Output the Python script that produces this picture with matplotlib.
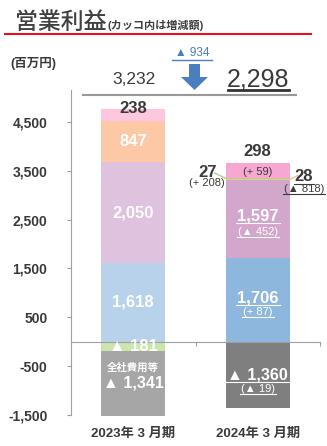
import matplotlib
matplotlib.use('Agg')
import matplotlib.pyplot as plt
from matplotlib.lines import Line2D
from matplotlib.patches import Polygon

plt.rcParams['font.family'] = ['Liberation Sans', 'Noto Sans CJK JP']

# 営業利益（百万円）
years = ['2023年 3 月期', '2024年 3 月期']
blue = [1618, 1706]
purple = [2050, 1597]
peach = [847, 28]
green = [-181, 27]
pink = [238, 298]
corp = [-1341, -1360]
totals = [3232, 2298]
total_change = -934

# 前年比の増減額（2024年３月期）
blue_chg = 87
purple_chg = -452
peach_chg = -818
green_chg = 208
pink_chg = 59
corp_chg = -19

yticks = [-1500, -500, 500, 1500, 2500, 3500, 4500]

series = [
    (blue, ['#b7d2ea', '#8eb7de']),
    (purple, ['#dfc3de', '#d3a6cb']),
    (peach, ['#fcc8a6', '#fbbd93']),
    (green, ['#cbe5ad', '#a8d88a']),
    (pink, ['#fcc7df', '#f6a8d2']),
    (corp, ['#a6a6a6', '#7f7f7f']),
]

W, H = 327, 446
fig = plt.figure(figsize=(W / 100, H / 100), dpi=100)
ax = fig.add_axes([71 / W, 1 - 415 / H, 249 / W, 325 / H])
ax.set_xlim(-0.5, 1.5)
ax.set_ylim(-1500, 5150)

DARK = '#3a3a3a'
AXC = '#a0a0a0'


def fx(px):
    return px / W


def fy(py):
    return 1 - py / H


# 積み上げ棒（正は上に、負は下に積む）
xs = [0, 1]
pos_base = [0, 0]
neg_base = [0, 0]
spans = []
for vals, cols in series:
    span = []
    for i, v in enumerate(vals):
        if v >= 0:
            b = pos_base[i]
            pos_base[i] += v
        else:
            b = neg_base[i]
            neg_base[i] += v
        ax.bar(xs[i], v, bottom=b, width=0.515, color=cols[i], clip_on=False,
               linewidth=0, zorder=2)
        span.append((b, b + v))
    spans.append(span)

(blue_s, purple_s, peach_s, green_s, pink_s, corp_s) = spans


def mid(s):
    return (s[0] + s[1]) / 2


def fmt(v):
    return f'{v:,}' if v >= 0 else f'▲ {-v:,}'


def fmt_chg(v):
    return f'(+ {v:,})' if v >= 0 else f'(▲ {-v:,})'


underlined = []


def label(x, y, s, size, color='white', ul=False, weight='bold', **kw):
    t = ax.text(x, y, s, fontsize=size, color=color, ha='center', va='center',
                fontweight=weight, zorder=5, clip_on=False, **kw)
    if ul:
        underlined.append((t, color))
    return t


# 2023年３月期
label(0, pink_s[0][1] + 10, f'{pink[0]:,}', 12, DARK)
label(0, mid(peach_s[0]), f'{peach[0]:,}', 12)
label(0, mid(purple_s[0]), f'{purple[0]:,}', 12)
label(0, mid(blue_s[0]), f'{blue[0]:,}', 12)
label(0, mid(green_s[0]), fmt(green[0]), 12)
label(0, mid(corp_s[0]) + 310, '全社費用等', 7.5)
label(0, mid(corp_s[0]), fmt(corp[0]), 11.5)

# 2024年３月期
label(1, pink_s[1][1] + 230, f'{pink[1]:,}', 12, DARK)
label(1, mid(pink_s[1]) - 40, fmt_chg(pink_chg), 8, DARK, weight='normal')
label(1, mid(purple_s[1]) + 70, f'{purple[1]:,}', 12, ul=True)
label(1, mid(purple_s[1]) - 250, fmt_chg(purple_chg), 8, ul=True, weight='normal')
label(1, mid(blue_s[1]) + 50, f'{blue[1]:,}', 12, ul=True)
label(1, mid(blue_s[1]) - 240, fmt_chg(blue_chg), 8, ul=True, weight='normal')
label(1, mid(corp_s[1]), fmt(corp[1]), 11.5, ul=True)
label(1, mid(corp_s[1]) - 290, fmt_chg(corp_chg), 8, ul=True, weight='normal')

# 細いセグメントは引き出し線で外側に
label(0.60, 3470, f'{green[1]:,}', 12, DARK)
label(0.59, 3240, fmt_chg(green_chg), 8, DARK, weight='normal')
ax.plot([0.655, 0.742], [3450, mid(green_s[1])], color='#a8d88a', lw=1,
        clip_on=False, zorder=4)
label(1.37, 3370, f'{peach[1]:,}', 12, DARK, ul=True)
label(1.37, 3130, fmt_chg(peach_chg), 8, DARK, ul=True, weight='normal')
ax.plot([1.258, 1.32], [mid(peach_s[1]), 3400], color='#fbbd93', lw=1,
        clip_on=False, zorder=4)

# 軸
for side in ['top', 'right']:
    ax.spines[side].set_visible(False)
ax.spines['left'].set_color(AXC)
ax.spines['bottom'].set_position(('data', 0))
ax.spines['bottom'].set_color(AXC)
ax.set_xticks([0.5, 1.5])
ax.set_xticklabels([])
ax.tick_params(axis='x', direction='out', length=3, color=AXC)
ax.set_yticks(yticks)
ax.set_yticklabels([f'{v:,}' for v in yticks], fontsize=10, fontweight='bold',
                   color=DARK)
ax.tick_params(axis='y', direction='out', length=3, color=AXC, pad=14)

for i, yr in enumerate(years):
    ax.text(xs[i], -1890, yr, fontsize=9.5, fontweight='bold', color=DARK,
            ha='center', va='center', clip_on=False)

# 見出し
fig.text(fx(15), fy(22), '営業利益', fontsize=16.5, fontweight='medium',
         color='#404040', va='center', ha='left')
fig.text(fx(108), fy(25), '(カッコ内は増減額)', fontsize=8, fontweight='bold',
         color='#404040', va='center', ha='left')
fig.add_artist(Line2D([fx(5), fx(311)], [fy(34), fy(34)], color='#e8101c', lw=1.5))
fig.text(fx(10), fy(63), '(百万円)', fontsize=9, fontweight='bold', color=DARK,
         va='center', ha='left')

# 合計と増減
fig.text(fx(134), fy(80), f'{totals[0]:,}', fontsize=12.5, color=DARK,
         ha='center', va='center')
fig.text(fx(258), fy(79), f'{totals[1]:,}', fontsize=18, color=DARK,
         ha='center', va='center')
fig.add_artist(Line2D([fx(83), fx(296)], [fy(95), fy(95)], color='#999999', lw=1.5))
fig.add_artist(Line2D([fx(228), fx(289)], [fy(90), fy(90)], color='#333333', lw=2))

ARROW = '#4a7ebf'
fig.text(fx(192), fy(53), fmt(total_change), fontsize=8.5, color=ARROW,
         ha='center', va='center')
fig.add_artist(Line2D([fx(172), fx(212)], [fy(60), fy(60)], color=ARROW, lw=1))
pts = [(189, 64), (200, 64), (200, 77), (208, 77), (194.5, 90), (181, 77), (189, 77)]
fig.add_artist(Polygon([(fx(px), fy(py)) for px, py in pts], closed=True,
                       facecolor=ARROW, edgecolor='none'))

# 下線
fig.canvas.draw()
renderer = fig.canvas.get_renderer()
inv = fig.transFigure.inverted()
for t, c in underlined:
    bb = t.get_window_extent(renderer)
    (x0, y0), (x1, _) = inv.transform([(bb.x0 - 1, bb.y0), (bb.x1 + 1, bb.y1)])
    fig.add_artist(Line2D([x0, x1], [y0, y0], color=c, lw=0.8, zorder=6))

fig.savefig('out.png', dpi=100)
